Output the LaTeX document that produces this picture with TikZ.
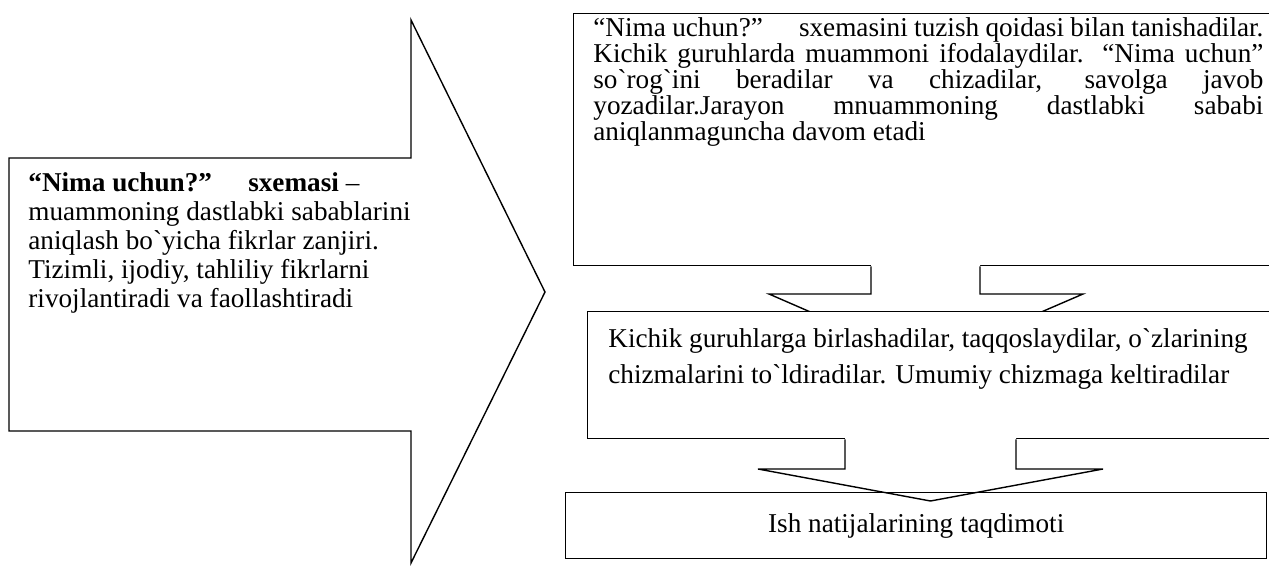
\documentclass[tikz,border=0pt]{standalone}
\usepackage{fontspec}
\newfontfamily\uzfont{Liberation Serif}
\usetikzlibrary{calc}

\begin{document}
\begin{tikzpicture}[x=0.5pt, y=-0.5pt,
  blockarrow/.style={draw, line width=0.7pt, line join=miter},
  box/.style={draw, line width=0.7pt, rectangle, inner sep=0pt, anchor=north west},
  txt/.style={inner sep=0pt, anchor=north west, font=\uzfont\fontsize{13.6}{14.5}\selectfont}]
% Picture frame
\useasboundingbox (0,0) rectangle (1269,567);
\clip (0,0) rectangle (1269,567);

% Draw big arrow
\draw[blockarrow] (9,158) -- (411,158) -- (411,20) -- (545,292) -- (411,563) -- (411,431) -- (9,431) -- cycle;
\node[txt, align=left] (lefttext) at (28,172) {\textbf{“Nima uchun?”\hspace{1em} sxemasi} –\\
muammoning dastlabki sabablarini\\
aniqlash bo`yicha fikrlar zanjiri.\\
Tizimli, ijodiy, tahliliy fikrlarni\\
rivojlantiradi va faollashtiradi};

% Draw top box
\node[box, minimum width=351pt, minimum height=126pt] (topbox) at (573,13) {};
\node[txt, text width=335pt, align=justify, font=\uzfont\fontsize{13.6}{13}\selectfont] (toptext) at ([shift={(20,4)}]topbox.north west) {“Nima uchun?”\hspace{1em} sxemasini tuzish qoidasi bilan tanishadilar.\linebreak
Kichik guruhlarda muammoni ifodalaydilar. “Nima uchun”\linebreak
so`rog`ini beradilar va chizadilar, savolga javob\linebreak
yozadilar.Jarayon mnuammoning dastlabki sababi\linebreak
aniqlanmaguncha davom etadi};

% Draw first down arrow
\coordinate (tip1) at (925.5,362);
\fill[white] (871,262) -- (871,294) -- (769,294) -- (tip1) -- (1083,294) -- (980,294) -- (980,262) -- cycle;
\draw[blockarrow] (871,0 |- topbox.south) -- (871,294) -- (769,294) -- (tip1) -- (1083,294) -- (980,294) -- (980,0 |- topbox.south);

% Draw middle box
\node[box, fill=white, minimum width=344pt, minimum height=63.5pt] (midbox) at (587,311) {};
\node[txt, align=left, font=\uzfont\fontsize{13.6}{18}\selectfont] (midtext) at ([shift={(21,17)}]midbox.north west) {Kichik guruhlarga birlashadilar, taqqoslaydilar, o`zlarining\\
chizmalarini to`ldiradilar. Umumiy chizmaga keltiradilar};

% Draw second down arrow
\coordinate (tip2) at (930.5,501);
\fill[white] (845,435) -- (845,469) -- (758,469) -- (tip2) -- (1103,469) -- (1016,469) -- (1016,435) -- cycle;
\draw[blockarrow] (845,0 |- midbox.south) -- (845,469) -- (758,469) -- (tip2) -- (1103,469) -- (1016,469) -- (1016,0 |- midbox.south);

% Draw bottom box
\node[box, minimum width=350.5pt, minimum height=33pt, font=\uzfont\fontsize{13.6}{14.5}\selectfont] (resbox) at (565,492) {Ish natijalarining taqdimoti};
\end{tikzpicture}
\end{document}
